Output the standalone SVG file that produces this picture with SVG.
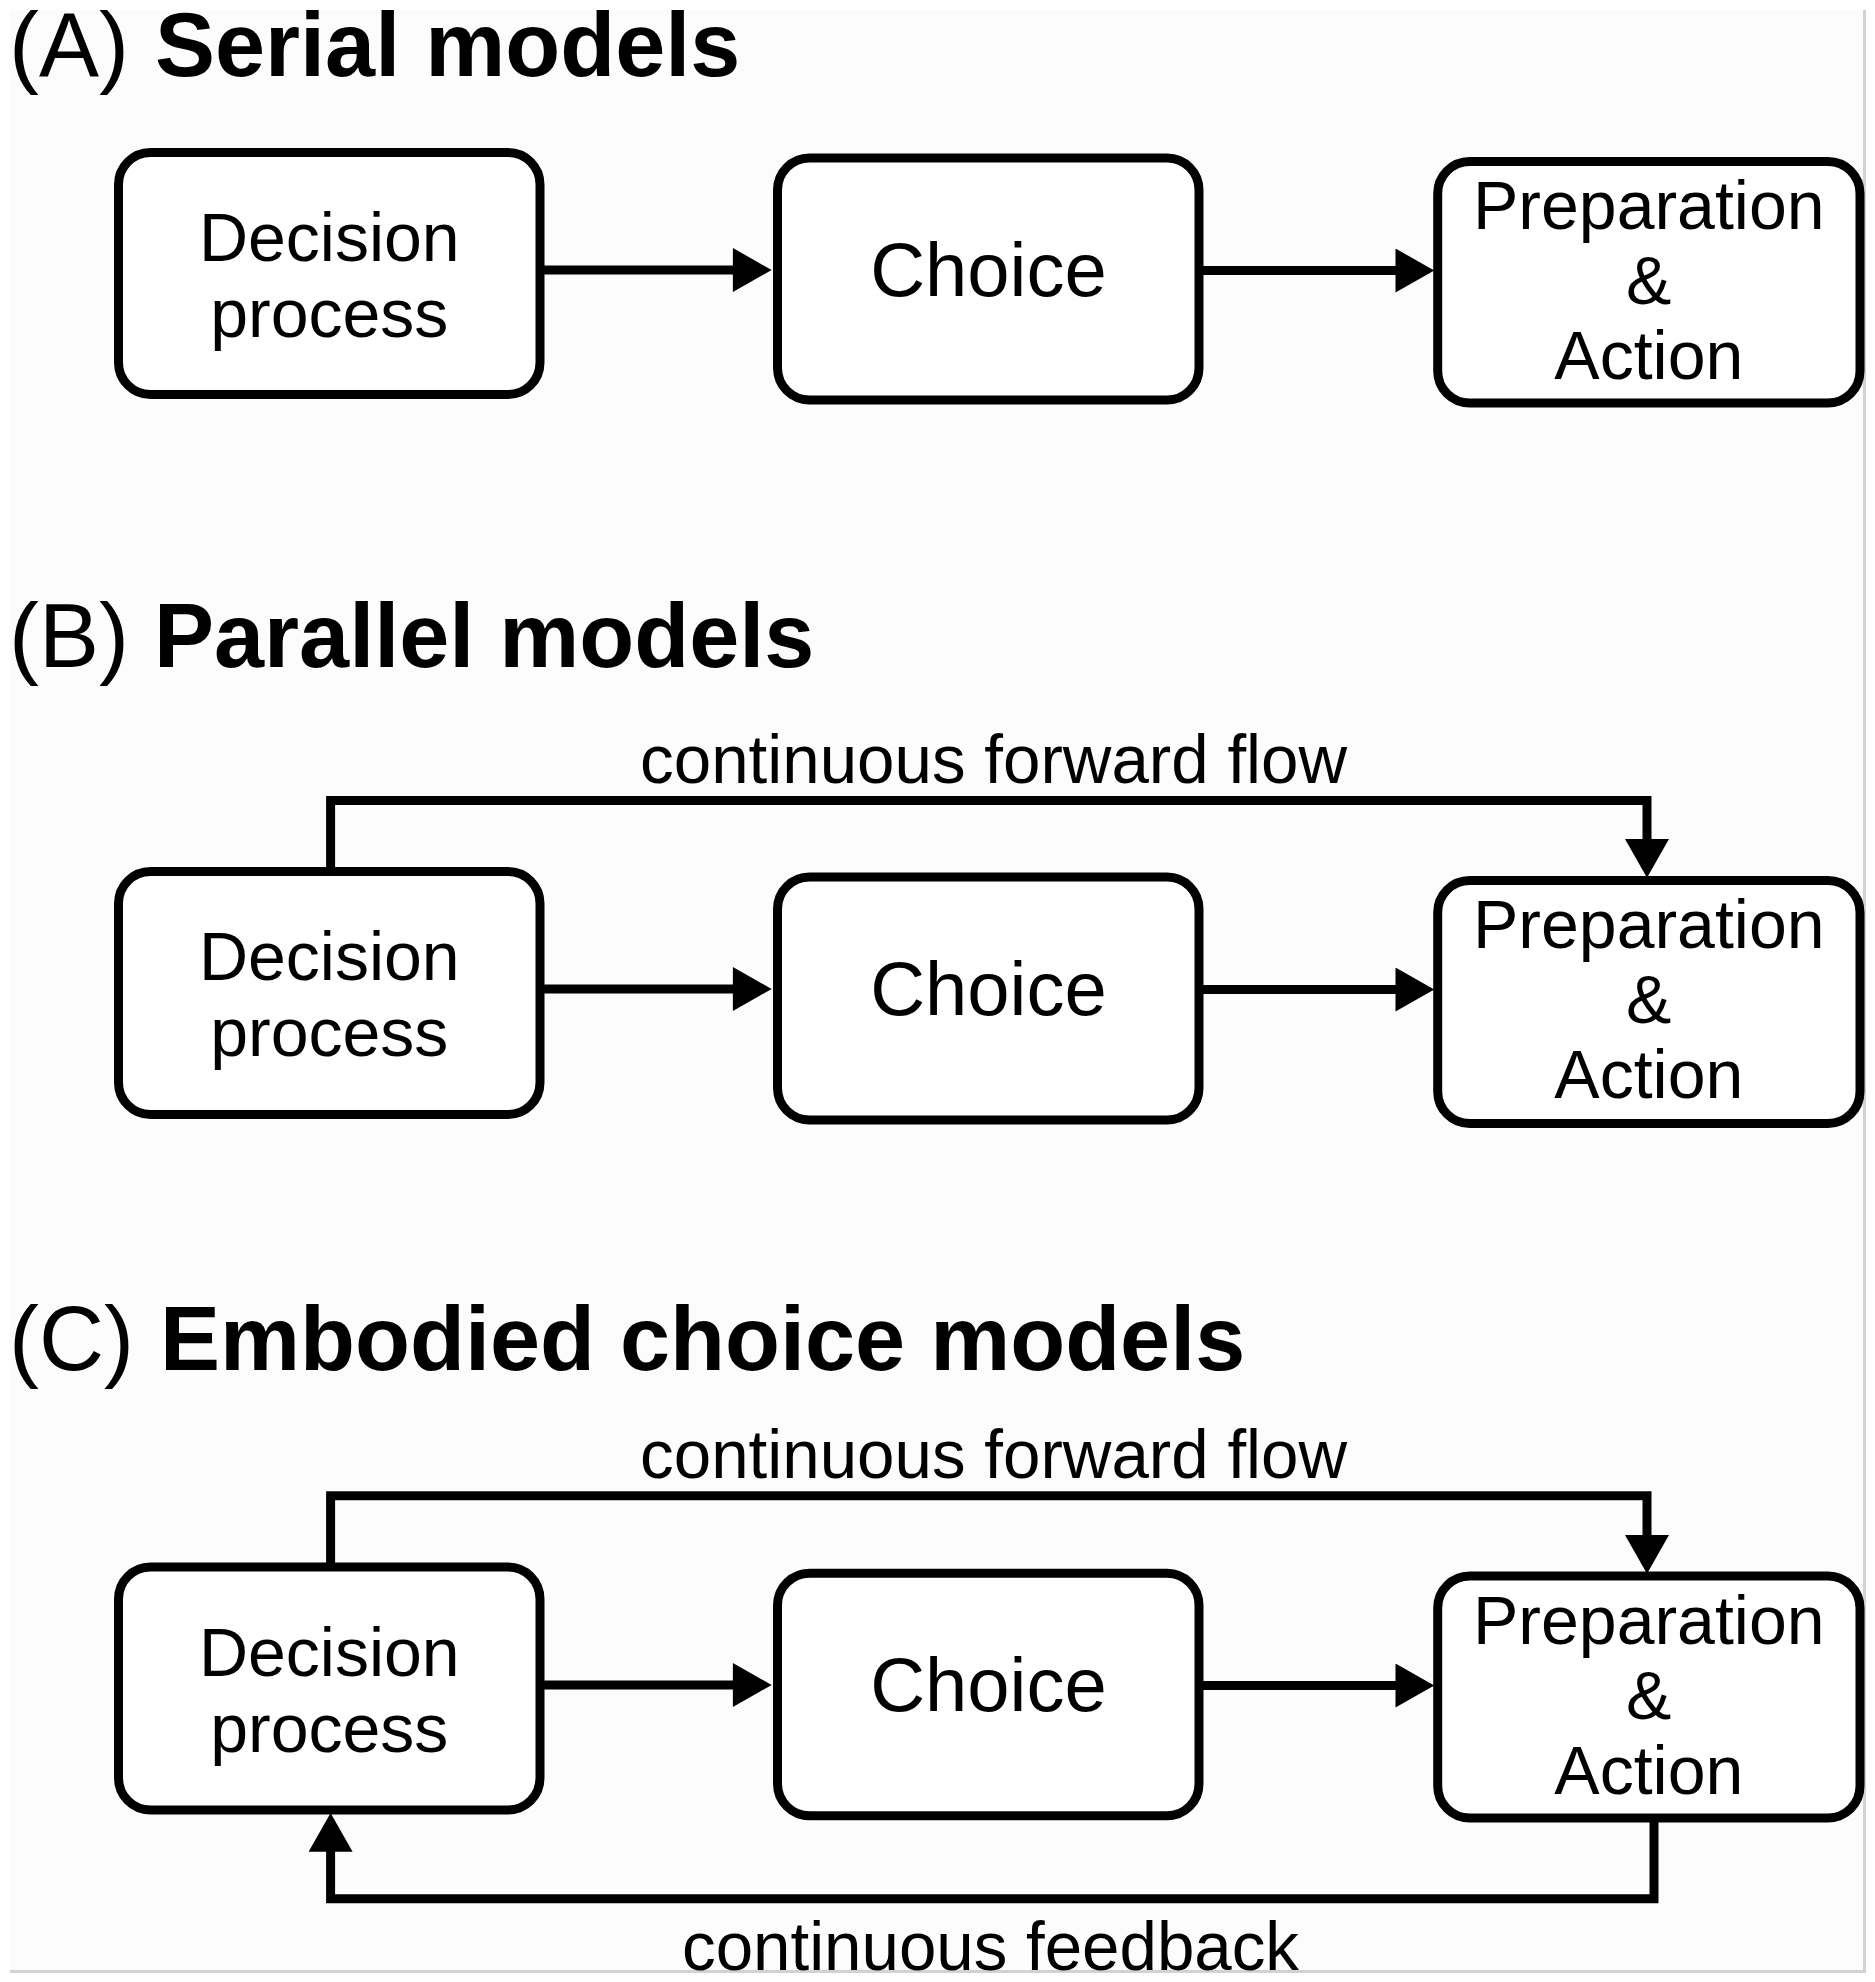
<svg xmlns="http://www.w3.org/2000/svg" width="1875" height="1982" viewBox="0 0 1875 1982">
<style>
text{font-family:"Liberation Sans",Arial,Helvetica,sans-serif;fill:#000}
.title{font-size:90px}
.bold{font-weight:bold}
.node rect{fill:#fff;stroke:#000;stroke-width:9}
.nt{font-size:68px;text-anchor:middle}
.ct{font-size:76px;text-anchor:middle}
.lbl{font-size:68px;text-anchor:middle}
.conn path{fill:none;stroke:#000;stroke-width:9;stroke-linejoin:miter;stroke-linecap:butt}
.frame{stroke:#d2d2d2;stroke-width:3;fill:none}
</style>
<defs>
<marker id="ah" markerUnits="userSpaceOnUse" markerWidth="40" markerHeight="44" viewBox="0 0 37 42" refX="2" refY="21" orient="auto">
<path d="M0,0 L37,21 L0,42 Z" fill="#000"/>
</marker>
</defs>
<rect x="0" y="0" width="1875" height="1982" fill="#ffffff"/>
<rect x="10" y="10" width="1854" height="1961" fill="#fcfcfc"/>
<path class="frame" d="M1864.5,10 V1971.5 H10"/>

<g id="titles">
<text class="title" x="9" y="76">(A)</text>
<text class="title bold" x="155" y="76">Serial models</text>
<text class="title" x="9" y="667">(B)</text>
<text class="title bold" x="154" y="667">Parallel models</text>
<text class="title" x="9" y="1369.5">(C)</text>
<text class="title bold" x="160" y="1369.5">Embodied choice models</text>
</g>

<g class="conn" id="connectors">
<path d="M540,270 H735" marker-end="url(#ah)"/>
<path d="M1190,270.5 H1397.6" marker-end="url(#ah)"/>
<path d="M540,989 H735" marker-end="url(#ah)"/>
<path d="M1190,989.5 H1397.6" marker-end="url(#ah)"/>
<path d="M330.6,871.5 V800.5 H1647 V841" marker-end="url(#ah)"/>
<path d="M540,1685 H735" marker-end="url(#ah)"/>
<path d="M1190,1685.5 H1397.6" marker-end="url(#ah)"/>
<path d="M330.6,1567 V1495.8 H1647 V1537" marker-end="url(#ah)"/>
<path d="M1654,1818 V1898.7 H330.6 V1849.6" marker-end="url(#ah)"/>
</g>

<g id="labels">
<text class="lbl" x="993.6" y="782.5" textLength="707" lengthAdjust="spacingAndGlyphs">continuous forward flow</text>
<text class="lbl" x="993.6" y="1477.5" textLength="707" lengthAdjust="spacingAndGlyphs">continuous forward flow</text>
<text class="lbl" x="990.5" y="1969.8" textLength="617" lengthAdjust="spacingAndGlyphs">continuous feedback</text>
</g>

<g class="node" id="A1">
<rect x="118.5" y="152.5" width="421.5" height="242" rx="32"/>
<text class="nt" x="329.3" y="261.4">Decision</text>
<text class="nt" x="329.3" y="336.7">process</text>
</g>
<g class="node" id="A2">
<rect x="777.5" y="158" width="421.5" height="242" rx="32"/>
<text class="ct" x="988.5" y="295.5">Choice</text>
</g>
<g class="node" id="A3">
<rect x="1437.7" y="161.5" width="422.3" height="241.5" rx="32"/>
<text class="nt" x="1648.8" y="229">Preparation</text>
<text class="nt" x="1648.8" y="303.5">&amp;</text>
<text class="nt" x="1648.8" y="379">Action</text>
</g>

<g class="node" id="B1">
<rect x="118.5" y="871.5" width="421.5" height="243" rx="32"/>
<text class="nt" x="329.3" y="980.4">Decision</text>
<text class="nt" x="329.3" y="1055.7">process</text>
</g>
<g class="node" id="B2">
<rect x="777.5" y="877" width="421.5" height="243" rx="32"/>
<text class="ct" x="988.5" y="1014.5">Choice</text>
</g>
<g class="node" id="B3">
<rect x="1437.7" y="880.5" width="422.3" height="243" rx="32"/>
<text class="nt" x="1648.8" y="948">Preparation</text>
<text class="nt" x="1648.8" y="1022.5">&amp;</text>
<text class="nt" x="1648.8" y="1098">Action</text>
</g>

<g class="node" id="C1">
<rect x="118.5" y="1567" width="421.5" height="243" rx="32"/>
<text class="nt" x="329.3" y="1676.4">Decision</text>
<text class="nt" x="329.3" y="1751.7">process</text>
</g>
<g class="node" id="C2">
<rect x="777.5" y="1573.3" width="421.5" height="242.5" rx="32"/>
<text class="ct" x="988.5" y="1710.5">Choice</text>
</g>
<g class="node" id="C3">
<rect x="1437.7" y="1576" width="422.3" height="242" rx="32"/>
<text class="nt" x="1648.8" y="1644">Preparation</text>
<text class="nt" x="1648.8" y="1718.5">&amp;</text>
<text class="nt" x="1648.8" y="1794">Action</text>
</g>
</svg>
